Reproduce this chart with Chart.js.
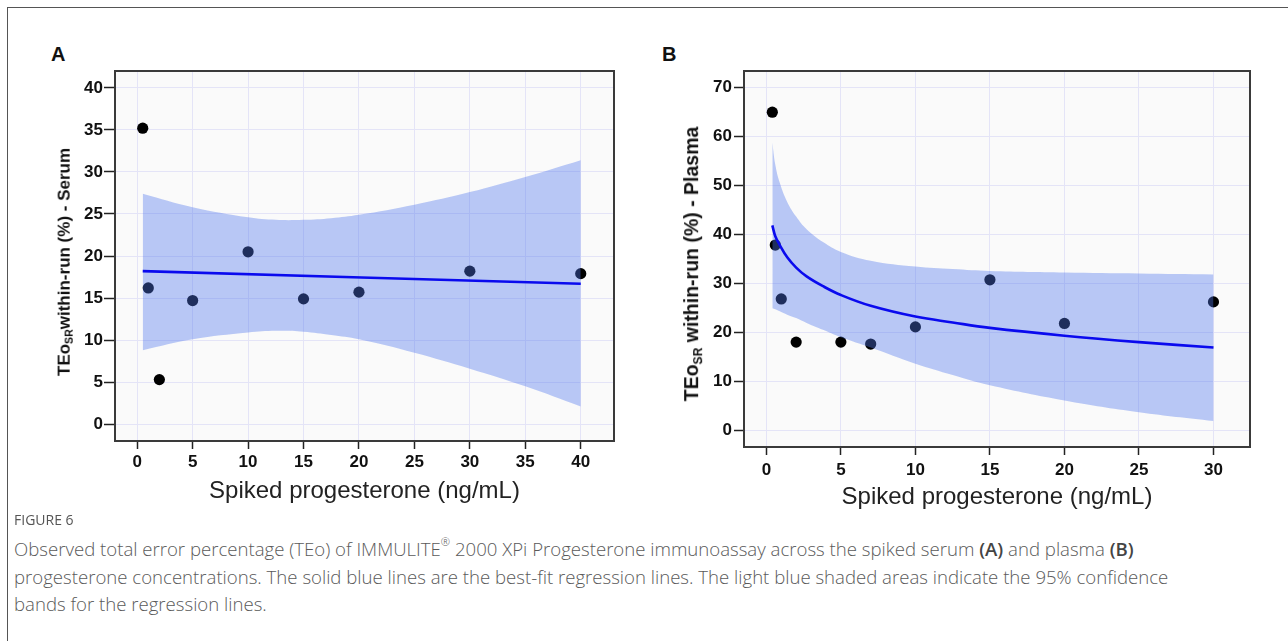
<!DOCTYPE html>
<html>
<head>
<meta charset="utf-8">
<script src="https://cdn.jsdelivr.net/npm/chart.js@4.4.1/dist/chart.umd.min.js"></script>
<style>
  body { margin: 0; width: 1288px; height: 641px; background: #fff; position: relative; overflow: hidden;
         font-family: "Liberation Sans", Arial, sans-serif; }
  .frame { position: absolute; left: 7px; top: 7px; width: 1400px; height: 800px;
           border-top: 1px solid #555; border-left: 1px solid #555; }
  .panel { position: absolute; top: 0; width: 640px; height: 530px; }
  .letter { position: absolute; top: 44px; font-weight: bold; font-size: 20px; line-height: 20px; color: #111; }
  .ytitle { position: absolute; transform: translate(-50%, -50%) rotate(-90deg); white-space: nowrap;
            font-weight: bold; color: #111; line-height: 1; }
  .ytitle sub { font-size: 0.62em; vertical-align: -0.3em; }
  .figlabel { position: absolute; left: 14px; top: 510px; font-family: "Open Sans", sans-serif;
              font-size: 14px; color: #555; }
  .caption { position: absolute; left: 14px; top: 535px; font-family: "Open Sans", sans-serif; font-weight: 300;
             font-size: 18.6px; line-height: 27.5px; color: #5a5a5a; white-space: nowrap; }
  .caption b { font-weight: 600; color: #444; }
  .caption sup { font-size: 0.6em; vertical-align: 0.9em; line-height: 0; }
</style>
</head>
<body>
<div class="frame"></div>

<div class="letter" style="left:51px">A</div>
<div class="letter" style="left:662px">B</div>

<div class="panel" style="left:0"><canvas id="serumChart" width="640" height="530"></canvas></div>
<div class="panel" style="left:644px"><canvas id="plasmaChart" width="640" height="530"></canvas></div>

<div class="ytitle" style="left:65px; top:262px; font-size:17px">TEo<sub>SR</sub>within-run (%) - Serum</div>
<div class="ytitle" style="left:693px; top:264px; font-size:19.5px">TEo<sub>SR</sub> within-run (%) - Plasma</div>

<div class="figlabel">FIGURE 6</div>
<div class="caption">Observed total error percentage (TEo) of IMMULITE<sup>®</sup> 2000 XPi Progesterone immunoassay across the spiked serum <b>(A)</b> and plasma <b>(B)</b><br>progesterone concentrations. The solid blue lines are the best-fit regression lines. The light blue shaded areas indicate the 95% confidence<br>bands for the regression lines.</div>

<script>
// panel A - serum
const serumX = [0.5, 1, 2, 5, 10, 15, 20, 30, 40];
const serumY = [35.2, 16.2, 5.3, 14.7, 20.5, 14.9, 15.7, 18.2, 17.9];
const serumFitX = [0.5, 40];
const serumFitY = [18.2, 16.7];
const serumBandX = [0.5, 5, 10, 12.5, 15, 17.5, 20, 25, 30, 35, 40];
const serumBandHi = [27.4, 25.8, 24.6, 24.3, 24.3, 24.5, 24.9, 26.1, 27.6, 29.4, 31.4];
const serumBandLo = [8.8, 10.1, 10.9, 11.1, 11.0, 10.6, 10.1, 8.5, 6.6, 4.5, 2.1];
const serumXTicks = [0, 5, 10, 15, 20, 25, 30, 35, 40];
const serumYTicks = [0, 5, 10, 15, 20, 25, 30, 35, 40];

// panel B - plasma
const plasmaX = [0.4, 0.6, 1, 2, 5, 7, 10, 15, 20, 30];
const plasmaY = [64.9, 37.8, 26.8, 18.0, 18.0, 17.6, 21.1, 30.7, 21.8, 26.2];
const plasmaCurveX = [0.4, 0.6, 0.9, 1.4, 2, 2.7, 3.8, 5, 7, 10, 12.5, 15, 20, 25, 30];
const plasmaFitY = [41.8, 39.6, 37.8, 35.3, 33.2, 31.4, 29.4, 27.6, 25.4, 23.2, 22.0, 20.9, 19.3, 18.0, 16.9];
const plasmaBandHi = [58.7, 54.2, 50.5, 46.6, 43.6, 41.0, 38.4, 36.4, 34.6, 33.4, 32.9, 32.5, 32.2, 32.0, 31.8];
const plasmaBandLo = [24.9, 24.7, 24.3, 23.6, 22.9, 21.9, 20.5, 19.0, 16.9, 13.6, 11.3, 9.2, 6.1, 3.7, 1.9];
const plasmaXTicks = [0, 5, 10, 15, 20, 25, 30];
const plasmaYTicks = [0, 10, 20, 30, 40, 50, 60, 70];

const FONT = '"Liberation Sans", Arial, sans-serif';
const pts = (xs, ys) => xs.map((x, i) => ({ x: x, y: ys[i] }));

// grey plot background + dark box round the plot area
const plotFrame = {
  id: 'plotFrame',
  beforeDraw(chart) {
    const { ctx, chartArea: a } = chart;
    ctx.save();
    ctx.fillStyle = '#fafafa';
    ctx.fillRect(a.left, a.top, a.width, a.height);
    ctx.restore();
  },
  afterDraw(chart) {
    const { ctx, chartArea: a } = chart;
    ctx.save();
    ctx.strokeStyle = '#3a3a3a';
    ctx.lineWidth = 2;
    ctx.strokeRect(a.left, a.top, a.width, a.height);
    ctx.restore();
  }
};

function makeChart(id, d) {
  return new Chart(document.getElementById(id), {
    type: 'scatter',
    data: {
      datasets: [
        { type: 'line', data: pts(d.fitX, d.fitY), borderColor: '#0a0aee', borderWidth: 2.6,
          pointRadius: 0, fill: false, tension: 0.4, order: 0 },
        { type: 'line', data: pts(d.bandX, d.bandHi), borderColor: 'transparent', borderWidth: 0,
          pointRadius: 0, backgroundColor: 'rgba(79,118,236,0.39)', fill: '+1',
          tension: 0.4, order: 1 },
        { type: 'line', data: pts(d.bandX, d.bandLo), borderColor: 'transparent', borderWidth: 0,
          pointRadius: 0, fill: false, tension: 0.4, order: 1 },
        { data: pts(d.x, d.y), backgroundColor: '#000', borderWidth: 0, pointRadius: 5.6, order: 2 }
      ]
    },
    options: {
      responsive: false,
      animation: false,
      events: [],
      layout: { padding: d.pad },
      plugins: { legend: { display: false }, tooltip: { enabled: false } },
      scales: {
        x: {
          type: 'linear', min: d.xMin, max: d.xMax,
          afterBuildTicks: s => { s.ticks = d.xTicks.map(v => ({ value: v })); },
          afterFit: s => { s.height = 70; },
          border: { display: false },
          grid: { color: '#e4e4f7', lineWidth: 1, tickLength: 8, tickColor: '#222', tickWidth: 1.5 },
          ticks: { color: '#111', padding: d.xPad, autoSkip: false, maxRotation: 0,
                   font: { family: FONT, size: d.tickSize, weight: 'bold' } },
          title: { display: true, text: 'Spiked progesterone (ng/mL)', color: '#222',
                   padding: { top: 0, bottom: 5 }, font: { family: FONT, size: 24 } }
        },
        y: {
          type: 'linear', min: d.yMin, max: d.yMax,
          afterBuildTicks: s => { s.ticks = d.yTicks.map(v => ({ value: v })); },
          afterFit: s => { s.width = 45; },
          border: { display: false },
          grid: { color: '#e4e4f7', lineWidth: 1, tickLength: d.yTick, tickColor: '#222', tickWidth: 1.5 },
          ticks: { color: '#111', padding: d.yPad,
                   font: { family: FONT, size: d.tickSize, weight: 'bold' } }
        }
      }
    },
    plugins: [plotFrame]
  });
}

makeChart('serumChart', {
  x: serumX, y: serumY, fitX: serumFitX, fitY: serumFitY,
  bandX: serumBandX, bandHi: serumBandHi, bandLo: serumBandLo,
  xTicks: serumXTicks, yTicks: serumYTicks,
  xMin: -2, xMax: 43, yMin: -2, yMax: 42,
  pad: { left: 70, top: 71, right: 26, bottom: 19 },
  tickSize: 17, xPad: 3, yTick: 11, yPad: 1
});

makeChart('plasmaChart', {
  x: plasmaX, y: plasmaY, fitX: plasmaCurveX, fitY: plasmaFitY,
  bandX: plasmaCurveX, bandHi: plasmaBandHi, bandLo: plasmaBandLo,
  xTicks: plasmaXTicks, yTicks: plasmaYTicks,
  xMin: -1.5, xMax: 32.45, yMin: -3.4, yMax: 73.3,
  pad: { left: 55, top: 71, right: 34, bottom: 13 },
  tickSize: 17, xPad: 5, yTick: 10, yPad: 2
});
</script>
</body>
</html>
